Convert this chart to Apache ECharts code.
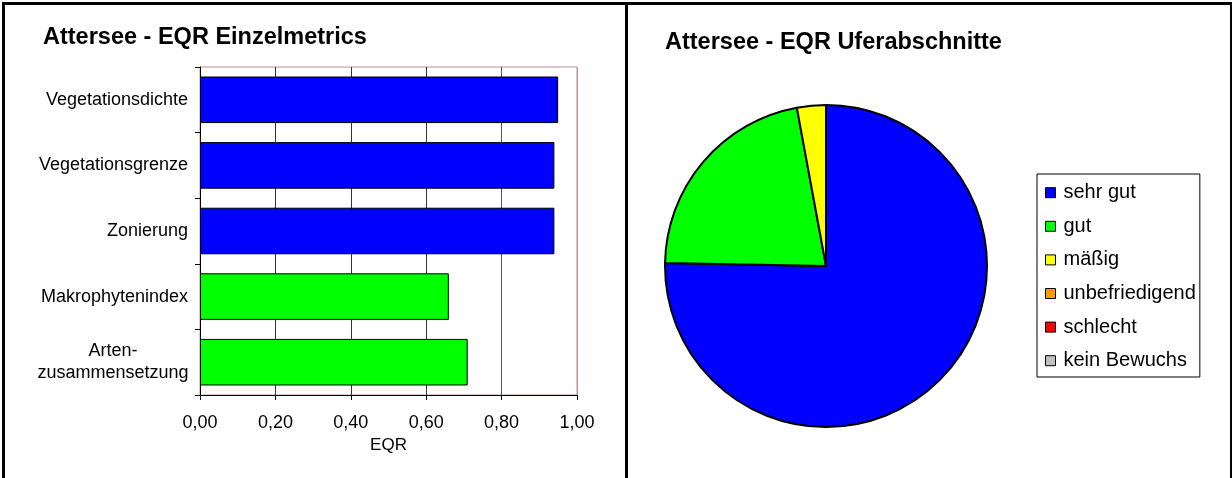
<!DOCTYPE html>
<html>
<head>
<meta charset="utf-8">
<script src="https://cdn.jsdelivr.net/npm/echarts@6/dist/echarts.min.js"></script>
<style>
  html, body { margin: 0; padding: 0; background: #fff; }
  #chart { width: 1232px; height: 478px; }
</style>
</head>
<body>
<div id="chart"></div>
<script>
// Left panel: EQR of the single metrics
const metricNames = ['Vegetationsdichte', 'Vegetationsgrenze', 'Zonierung', 'Makrophytenindex', 'Arten-\nzusammensetzung'];
const metricEQR = [0.95, 0.94, 0.94, 0.66, 0.71];
const metricColors = ['#0000FF', '#0000FF', '#0000FF', '#00FF00', '#00FF00'];
const eqrTicks = [0, 0.2, 0.4, 0.6, 0.8, 1.0];

// Right panel: share of shore sections per ecological class (%)
const classNames = ['sehr gut', 'gut', 'mäßig', 'unbefriedigend', 'schlecht', 'kein Bewuchs'];
const classShares = [75.3, 21.8, 2.9, 0, 0, 0];
const classColors = ['#0000FF', '#00FF00', '#FFFF00', '#FF9900', '#FF0000', '#C0C0C0'];

const FONT = '"Liberation Sans", Arial, Helvetica, sans-serif';
const chart = echarts.init(document.getElementById('chart'), null, { renderer: 'canvas' });

const tickStep = eqrTicks[1] - eqrTicks[0];

chart.setOption({
  animation: false,
  backgroundColor: '#ffffff',
  textStyle: { fontFamily: FONT, color: '#000' },
  title: [
    {
      text: 'Attersee - EQR Einzelmetrics',
      left: 43, top: 26, padding: 0,
      textStyle: { fontFamily: FONT, fontSize: 23.5, fontWeight: 'bold', color: '#000' }
    },
    {
      text: 'Attersee - EQR Uferabschnitte',
      left: 665, top: 31, padding: 0,
      textStyle: { fontFamily: FONT, fontSize: 23.5, fontWeight: 'bold', color: '#000' }
    }
  ],
  graphic: [
    { type: 'rect', silent: true, z: 100,
      shape: { x: 3.5, y: 3.5, width: 1228, height: 520 },
      style: { fill: null, stroke: '#000', lineWidth: 3 } },
    { type: 'line', silent: true, z: 100,
      shape: { x1: 626.5, y1: 3.5, x2: 626.5, y2: 478 },
      style: { stroke: '#000', lineWidth: 3 } }
  ],
  grid: {
    left: 200, top: 67, width: 377, height: 328,
    show: true, borderColor: '#c09090', borderWidth: 1, backgroundColor: '#fff'
  },
  xAxis: {
    type: 'value',
    min: eqrTicks[0], max: eqrTicks[eqrTicks.length - 1], interval: tickStep,
    name: 'EQR', nameLocation: 'middle', nameGap: 40,
    nameTextStyle: { fontFamily: FONT, fontSize: 17, color: '#000' },
    axisLine: { show: true, lineStyle: { color: '#000', width: 1 } },
    axisTick: { show: true, length: 5, lineStyle: { color: '#000' } },
    axisLabel: {
      fontFamily: FONT, fontSize: 18, color: '#000', margin: 19,
      formatter: v => v.toFixed(2).replace('.', ',')
    },
    splitLine: {
      show: true,
      lineStyle: { color: ['#000', '#333', '#333', '#333', '#555', '#c09090'], width: 1 }
    }
  },
  yAxis: {
    type: 'category', inverse: true,
    data: metricNames,
    axisLine: { show: true, lineStyle: { color: '#000', width: 1 } },
    axisTick: { show: true, length: 5, alignWithLabel: false, lineStyle: { color: '#000' } },
    axisLabel: {
      fontFamily: FONT, fontSize: 18, color: '#000', margin: 12,
      formatter: v => v.indexOf('\n') >= 0
        ? v.split('\n').map(line => '{c|' + line + '}').join('\n')
        : v,
      rich: {
        c: { fontFamily: FONT, fontSize: 18, color: '#000', width: 150, align: 'center', lineHeight: 22 }
      }
    },
    splitLine: { show: false }
  },
  legend: {
    data: classNames,
    orient: 'vertical',
    left: 1037, top: 174,
    padding: [8.7, 4, 6.3, 8],
    itemWidth: 10, itemHeight: 10, itemGap: 13.6,
    icon: 'rect',
    selectedMode: false,
    borderColor: '#000', borderWidth: 1,
    itemStyle: { borderColor: '#000', borderWidth: 1 },
    textStyle: { fontFamily: FONT, fontSize: 20, lineHeight: 20, color: '#000', padding: [0, 0, 0, 3] }
  },
  series: [
    {
      type: 'bar',
      xAxisIndex: 0, yAxisIndex: 0,
      barCategoryGap: '29%',
      data: metricEQR.map((v, i) => ({
        value: v,
        itemStyle: { color: metricColors[i], borderColor: '#000', borderWidth: 1 }
      })),
      label: { show: false },
      emphasis: { disabled: true }
    },
    {
      type: 'pie',
      center: [826, 266],
      radius: 161,
      startAngle: 90,
      clockwise: true,
      avoidLabelOverlap: false,
      stillShowZeroSum: true,
      label: { show: false },
      labelLine: { show: false },
      emphasis: { disabled: true },
      itemStyle: { borderColor: '#000', borderWidth: 2 },
      data: classNames.map((n, i) => ({
        name: n,
        value: classShares[i],
        itemStyle: { color: classColors[i] }
      }))
    }
  ]
});
</script>
</body>
</html>
